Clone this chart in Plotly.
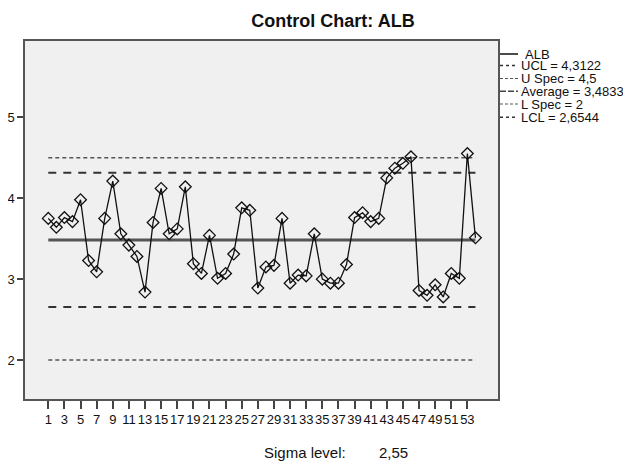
import plotly.graph_objects as go

# ---------------- data ----------------
sample_ids = list(range(1, 55))
alb_values = [3.75, 3.64, 3.76, 3.71, 3.98, 3.23, 3.09, 3.75, 4.21, 3.56,
              3.42, 3.28, 2.84, 3.70, 4.12, 3.56, 3.62, 4.14, 3.19, 3.07,
              3.54, 3.01, 3.07, 3.31, 3.88, 3.85, 2.89, 3.15, 3.17, 3.75,
              2.95, 3.05, 3.04, 3.56, 3.00, 2.95, 2.95, 3.18, 3.76, 3.82,
              3.71, 3.75, 4.25, 4.37, 4.43, 4.51, 2.86, 2.80, 2.93, 2.78,
              3.07, 3.01, 4.55, 3.51]
ucl = 4.3122
u_spec = 4.5
average = 3.4833
l_spec = 2
lcl = 2.6544
sigma_level = 2.55
x_tick_vals = list(range(1, 54, 2))
y_tick_vals = [2, 3, 4, 5]

def fmt(v, nd=None):
    s = (f"{v:.{nd}f}" if nd is not None else f"{v:g}")
    return s.replace(".", ",")

FONT = "Liberation Sans, Arial, sans-serif"

fig = go.Figure()

x_ends = [sample_ids[0], sample_ids[-1]]

# spec lines (dotted)
for val in (u_spec, l_spec):
    fig.add_trace(go.Scatter(x=x_ends, y=[val, val], mode="lines",
                             line=dict(color="#555555", width=1.5, dash="4px,3px"),
                             showlegend=False, hoverinfo="skip"))
# control limits (dashed)
for val in (ucl, lcl):
    fig.add_trace(go.Scatter(x=x_ends, y=[val, val], mode="lines",
                             line=dict(color="#333333", width=2, dash="8px,7px"),
                             showlegend=False, hoverinfo="skip"))
# center line
fig.add_trace(go.Scatter(x=x_ends, y=[average, average], mode="lines",
                         line=dict(color="#555555", width=3),
                         showlegend=False, hoverinfo="skip"))
# data
fig.add_trace(go.Scatter(x=sample_ids, y=alb_values, mode="lines+markers",
                         line=dict(color="#111111", width=1.3),
                         marker=dict(symbol="diamond-open", size=9,
                                     color="#111111", line=dict(width=1.3)),
                         showlegend=False, name="ALB"))

# ---------------- layout geometry ----------------
# page has an 8px body margin; figure is sized/offset to compensate
OFF = 8
W, H = 631 - OFF, 464 - OFF
L, T = 25 - OFF, 41 - OFF
R, B = W - (498 - OFF), H - (399 - OFF)
pw, ph = W - L - R, H - T - B

def px_x(px):
    return (px - OFF - L) / pw

def px_y(py):
    return (H - B - (py - OFF)) / ph

# custom legend (text + line samples)
legend_items = [
    ("ALB", dict(color="#111111", width=1.5), 524),
    ("UCL = " + fmt(ucl, 4), dict(color="#333333", width=1.5, dash="3px,3px"), 520),
    ("U Spec = " + fmt(u_spec), dict(color="#555555", width=1.2, dash="3px,2px"), 520),
    ("Average = " + fmt(average, 4), dict(color="#444444", width=1.5, dash="6px,2px"), 520),
    ("L Spec = " + fmt(l_spec), dict(color="#555555", width=1.2, dash="3px,2px"), 520),
    ("LCL = " + fmt(lcl, 4), dict(color="#333333", width=1.5, dash="3px,3px"), 520),
]
legend_y = [54, 65.5, 78.5, 91.3, 104, 117.3]
for (label, ln, tx), py in zip(legend_items, legend_y):
    fig.add_annotation(x=px_x(tx), y=px_y(py), xref="paper", yref="paper",
                       text=label, showarrow=False, xanchor="left", yanchor="middle",
                       borderpad=0,
                       font=dict(family=FONT, size=13, color="#111111"))
    fig.add_shape(type="line", xref="paper", yref="paper",
                  x0=px_x(500), x1=px_x(518), y0=px_y(py), y1=px_y(py), line=ln)

# sigma level
fig.add_annotation(x=px_x(262), y=px_y(452), xref="paper", yref="paper",
                   text="Sigma level:", showarrow=False, xanchor="left", yanchor="middle",
                   font=dict(family=FONT, size=15, color="#111111"))
fig.add_annotation(x=px_x(377), y=px_y(452), xref="paper", yref="paper",
                   text=fmt(sigma_level, 2), showarrow=False, xanchor="left", yanchor="middle",
                   font=dict(family=FONT, size=15, color="#111111"))

fig.update_layout(
    width=W, height=H,
    margin=dict(l=L, r=R, t=T, b=B, autoexpand=False),
    paper_bgcolor="white",
    plot_bgcolor="#F0F0F0",
    font=dict(family=FONT, size=13, color="#111111"),
    title=dict(text="<b>Control Chart: ALB</b>", x=px_x(333), xref="paper",
               xanchor="center", y=1 - (21 - OFF) / H, yref="container", yanchor="middle",
               font=dict(family=FONT, size=18, color="#111111")),
    showlegend=False,
)
fig.update_xaxes(range=[-1.89, 56.8], tickmode="array", tickvals=x_tick_vals,
                 ticktext=[str(v) for v in x_tick_vals], tickangle=0, automargin=False,
                 ticks="outside", ticklen=8, tickwidth=1.5, tickcolor="#444444",
                 showgrid=False, zeroline=False, showline=True, linecolor="#555555",
                 linewidth=1.5, mirror=True, tickfont=dict(size=13))
fig.update_yaxes(range=[1.52, 5.94], tickmode="array", tickvals=y_tick_vals,
                 automargin=False,
                 ticks="outside", ticklen=6, tickwidth=1.5, tickcolor="#444444",
                 showgrid=False, zeroline=False, showline=True, linecolor="#555555",
                 linewidth=1.5, mirror=True, tickfont=dict(size=13))

fig.write_html("out.html")
